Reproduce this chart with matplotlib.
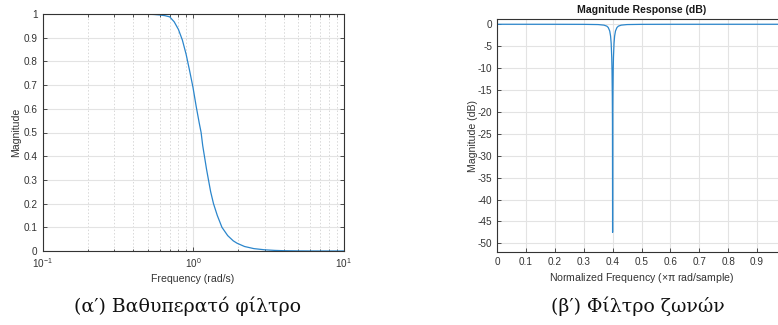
import matplotlib
matplotlib.use("Agg")
import matplotlib.pyplot as plt
from matplotlib.ticker import LogLocator, NullFormatter

# ---- data: low-pass magnitude
lp_freq = [0.1, 0.2, 0.3, 0.4, 0.5, 0.55, 0.6, 0.65, 0.7, 0.75, 0.8, 0.85, 0.9,
           0.95, 1.0, 1.05, 1.1, 1.132, 1.16, 1.191, 1.23, 1.267, 1.31, 1.368,
           1.45, 1.557, 1.7, 1.85, 1.96, 2.2, 2.54, 3.0, 3.5, 4.0, 5.0, 6.0, 8.0, 10.0]
lp_mag = [1.0, 1.0, 1.0, 1.0, 0.999, 0.998, 0.996, 0.993, 0.988, 0.967, 0.935, 0.89, 0.83,
          0.76, 0.69, 0.61, 0.54, 0.50, 0.445, 0.40, 0.345, 0.30, 0.25, 0.20,
          0.15, 0.10, 0.065, 0.043, 0.033, 0.019, 0.010, 0.005, 0.0025, 0.0013, 0.0004, 0.0001, 0.0, 0.0]

# ---- data: notch filter magnitude in dB
nf_freq = [0.0, 0.2, 0.3, 0.35, 0.37, 0.38, 0.385, 0.39, 0.393, 0.395, 0.397,
           0.398, 0.399, 0.3995, 0.4, 0.4005, 0.401, 0.402, 0.403, 0.405, 0.407,
           0.41, 0.415, 0.42, 0.43, 0.45, 0.5, 0.6, 0.8, 1.0]
nf_db = [0.0, -0.005, -0.02, -0.07, -0.2, -0.43, -0.75, -1.53, -2.7, -4.3, -7.55,
         -10.6, -16.4, -22.3, -47.5, -22.3, -16.4, -10.6, -7.55, -4.3, -2.7,
         -1.53, -0.75, -0.43, -0.2, -0.07, -0.02, -0.005, 0.0, 0.0]

lp_xticks = [0.1, 1, 10]
lp_xticklabels = ["$10^{-1}$", "$10^{0}$", "$10^{1}$"]
lp_yticks = [0, 0.1, 0.2, 0.3, 0.4, 0.5, 0.6, 0.7, 0.8, 0.9, 1]
lp_yticklabels = ["0", "0.1", "0.2", "0.3", "0.4", "0.5", "0.6", "0.7", "0.8", "0.9", "1"]
nf_xticks = [0, 0.1, 0.2, 0.3, 0.4, 0.5, 0.6, 0.7, 0.8, 0.9, 1.0]
nf_xticklabels = ["0", "0.1", "0.2", "0.3", "0.4", "0.5", "0.6", "0.7", "0.8", "0.9", ""]
nf_yticks = [0, -5, -10, -15, -20, -25, -30, -35, -40, -45, -50]
nf_yticklabels = ["0", "-5", "-10", "-15", "-20", "-25", "-30", "-35", "-40", "-45", "-50"]

captions = ["(α′) Βαθυπερατό φίλτρο", "(β′) Φίλτρο ζωνών"]

plt.rcParams['font.family'] = ['Liberation Sans', 'DejaVu Sans']
plt.rcParams['mathtext.fontset'] = 'custom'
plt.rcParams['mathtext.rm'] = 'Liberation Sans'
plt.rcParams['mathtext.it'] = 'Liberation Sans:italic'
plt.rcParams['mathtext.default'] = 'regular'
plt.rcParams['axes.unicode_minus'] = False

W, H = 778, 325
fig = plt.figure(figsize=(W / 100, H / 100), dpi=100)

line_c = '#2b86cc'
ax_c = '#333333'
tick_fs = 7.2
lab_fs = 7.6

def style(ax):
    for s in ax.spines.values():
        s.set_color(ax_c)
        s.set_linewidth(0.8)
    ax.tick_params(which='both', direction='in', colors=ax_c, labelsize=tick_fs,
                   length=3, width=0.6)
    ax.tick_params(which='minor', length=1.8)

# Left axes
l, r, t, b = 42.5, 343.5, 14, 251
ax1 = fig.add_axes([l / W, 1 - b / H, (r - l) / W, (b - t) / H])
ax1.plot(lp_freq, lp_mag, color=line_c, lw=0.9)
ax1.set_xscale('log')
ax1.set_xlim(0.1, 10)
ax1.set_ylim(0, 1)
ax1.set_xticks(lp_xticks)
ax1.set_xticklabels(lp_xticklabels)
ax1.set_yticks(lp_yticks)
ax1.set_yticklabels(lp_yticklabels)
ax1.xaxis.set_minor_locator(LogLocator(base=10, subs=range(2, 10), numticks=20))
ax1.xaxis.set_minor_formatter(NullFormatter())
ax1.grid(True, which='major', color='#e3e3e3', lw=0.8, ls='-')
ax1.grid(True, which='minor', axis='x', color='#d8d8d8', lw=0.7, ls=(0, (1.5, 2)))
ax1.set_axisbelow(True)
style(ax1)
ax1.tick_params(which='both', top=True, right=True)
ax1.set_xlabel('Frequency (rad/s)', fontsize=lab_fs, color=ax_c, labelpad=3)
ax1.set_ylabel('Magnitude', fontsize=lab_fs, color=ax_c, labelpad=1.5)

# Right axes
l2, r2, t2, b2 = 497, 786, 19, 252.3
ax2 = fig.add_axes([l2 / W, 1 - b2 / H, (r2 - l2) / W, (b2 - t2) / H])
ax2.plot(nf_freq, nf_db, color=line_c, lw=0.9)
ax2.set_xlim(0, 1)
ax2.set_ylim(-52.05, 1.2)
ax2.set_xticks(nf_xticks)
ax2.set_xticklabels(nf_xticklabels)
ax2.set_yticks(nf_yticks)
ax2.set_yticklabels(nf_yticklabels)
ax2.grid(True, which='major', color='#e3e3e3', lw=0.8, ls='-')
ax2.set_axisbelow(True)
style(ax2)
ax2.set_title('Magnitude Response (dB)', fontsize=lab_fs, fontweight='bold',
              color='#1a1a1a', pad=4)
ax2.set_xlabel('Normalized Frequency ($\\times\\pi$ rad/sample)', fontsize=lab_fs,
               color=ax_c, labelpad=3)
ax2.set_ylabel('Magnitude (dB)', fontsize=lab_fs, color=ax_c, labelpad=0)

# captions
cap_font = ['DejaVu Serif', 'Liberation Serif']
fig.text(187 / W, 1 - 306 / H, captions[0], ha='center', va='center',
         fontsize=13.6, family=cap_font, color='#111111')
fig.text(638 / W, 1 - 306 / H, captions[1], ha='center', va='center',
         fontsize=13.6, family=cap_font, color='#111111')

fig.savefig('out.png', dpi=100)
